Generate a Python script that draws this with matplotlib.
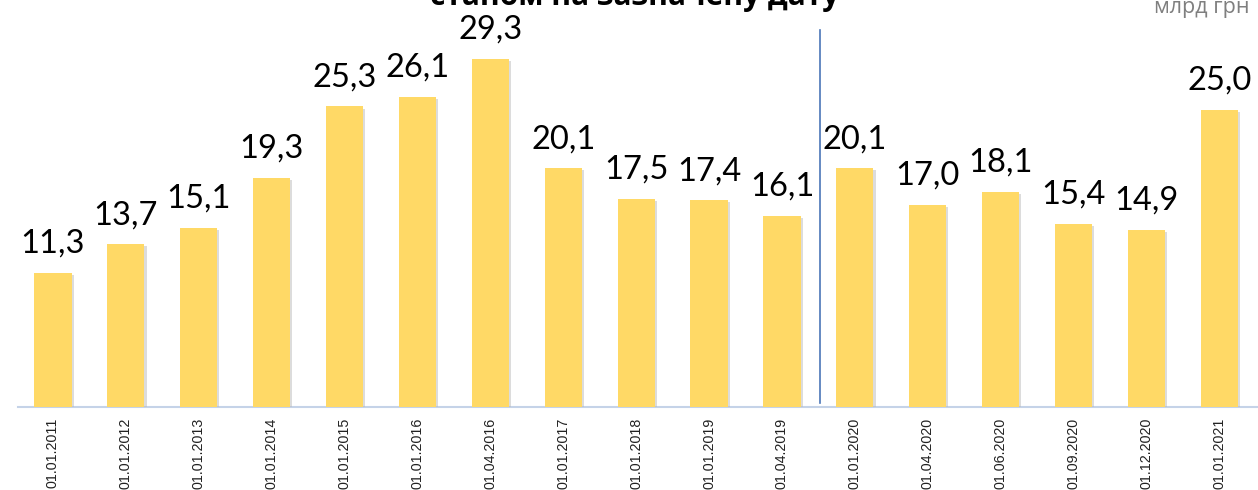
import matplotlib
matplotlib.use("Agg")
import matplotlib.pyplot as plt
import matplotlib.patheffects as pe

categories = ["01.01.2011", "01.01.2012", "01.01.2013", "01.01.2014", "01.01.2015",
              "01.01.2016", "01.04.2016", "01.01.2017", "01.01.2018", "01.01.2019",
              "01.04.2019", "01.01.2020", "01.04.2020", "01.06.2020", "01.09.2020",
              "01.12.2020", "01.01.2021"]
values = [11.3, 13.7, 15.1, 19.3, 25.3, 26.1, 29.3, 20.1, 17.5, 17.4,
          16.1, 20.1, 17.0, 18.1, 15.4, 14.9, 25.0]
labels = [f"{v:.1f}".replace(".", ",") for v in values]
title = "станом на зазначену дату"
unit = "млрд грн"

fig = plt.figure(figsize=(12.58, 4.90), dpi=100)
ax = fig.add_axes([18/1258, 83/490, 1 - 18/1258, 407/490])

x = list(range(len(values)))
bars = ax.bar(x, values, width=0.51, color="#FFD966", zorder=3)
for b in bars:
    b.set_path_effects([pe.SimplePatchShadow(offset=(1.5, -1.5), shadow_rgbFace="#bbbbbb", alpha=0.5), pe.Normal()])

for xi, v, lab in zip(x, values, labels):
    ax.annotate(lab, (xi, v), xytext=(0, 14.5), textcoords="offset points",
                ha="center", va="baseline", fontsize=23.5, family="Lato", color="black")

ax.set_xlim(-0.48, 16.53)
ax.set_ylim(0, 34.26)
ax.set_xticks(x)
ax.set_xticklabels(categories, rotation=90, fontsize=10.3, family="Liberation Sans", color="#222222", va="top")
ax.tick_params(axis="x", length=0, pad=7.5)
ax.set_yticks([])
for s in ["top", "right", "left"]:
    ax.spines[s].set_visible(False)
ax.spines["bottom"].set_color("#c5d3e8")
ax.spines["bottom"].set_linewidth(1.5)

ax.plot([10.52, 10.52], [0.34, 31.7], color="#4a76b8", linewidth=1.2, zorder=4)

fig.text(635/1258, 1 - 5/490, title, ha="center", va="baseline", fontsize=21.5,
         fontweight="bold", family="Open Sans", color="black")
fig.text(1250/1258, 1 - 13/490, unit, ha="right", va="baseline", fontsize=15.5,
         family="Open Sans", color="#7f7f7f")

fig.savefig("out.png", dpi=100)
